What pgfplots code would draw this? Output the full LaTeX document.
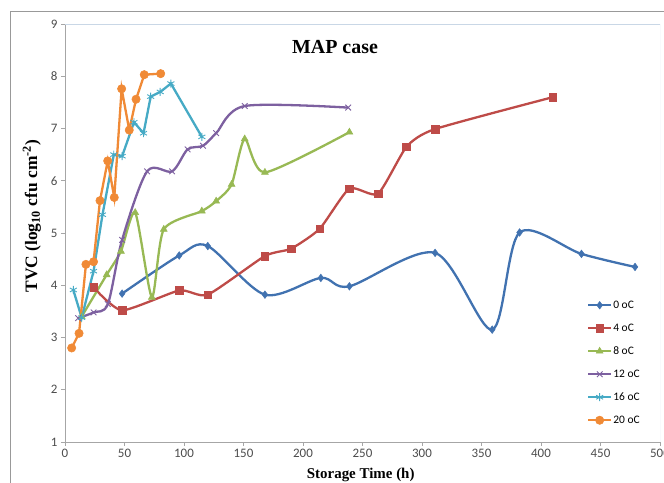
\documentclass[border=0pt]{standalone}
\usepackage{pgfplots}
\pgfplotsset{compat=1.18}
\usepackage{fontspec}
\setmainfont{Liberation Serif}
\newfontfamily\calibri{Carlito}
\definecolor{c0}{HTML}{4172B0}
\definecolor{c4}{HTML}{BE4B48}
\definecolor{c8}{HTML}{98B954}
\definecolor{c12}{HTML}{7D60A0}
\definecolor{c16}{HTML}{46AAC5}
\definecolor{c20}{HTML}{F08A36}
\definecolor{frameblue}{HTML}{C9D7E6}
\begin{document}
\begin{tikzpicture}
\path[use as bounding box] (-65bp,-41bp) rectangle (599bp,442bp);
\draw[black!40, line width=0.8bp] (-55bp,-45bp) -- (-55bp,431bp) -- (605bp,431bp);
\begin{axis}[
  name=ax, at={(0,0)}, anchor=south west,
  scale only axis, width=595bp, height=418bp,
  xmin=0, xmax=500, ymin=1, ymax=9,
  xtick={0,50,...,500}, ytick={1,2,...,9},
  axis lines=left,
  axis line style={-, black!35, line width=0.8bp},
  tick align=outside, major tick length=4bp,
  tick style={black!35, line width=0.8bp},
  tick label style={font=\calibri\fontsize{13}{13}\selectfont, text=black!70},
  /pgf/number format/assume math mode=true,
  xlabel={Storage Time (h)},
  ylabel={TVC (log\textsubscript{10} cfu cm\textsuperscript{-2})},
  xlabel style={at={(axis description cs:0.497,-0.079)}, anchor=center, font=\bfseries\fontsize{15}{15}\selectfont},
  ylabel style={at={(axis description cs:-0.0555,0.54)}, anchor=center, font=\bfseries\fontsize{17.5}{17.5}\selectfont},
  every axis plot/.append style={line width=2.3bp},
  legend image code/.code={\draw[mark repeat=2,mark phase=2,#1] plot coordinates {(0bp,0bp)(11.5bp,0bp)(23bp,0bp)};},
  legend style={at={(rel axis cs:0.877,0.342)}, anchor=north west, draw=none, fill=none,
    font=\calibri\fontsize{11.5}{11.5}\selectfont, row sep=11bp, inner sep=0pt,
    nodes={inner sep=1bp, text height=8bp, text depth=2bp}},
  legend cell align=left,
]
\addplot[c0, smooth, tension=0.5, mark=diamond*, mark size=3.8bp, mark options={solid, fill=c0, line width=0.5bp}] coordinates {
(48,3.84) (96,4.57) (120,4.75) (168,3.82) (215,4.14) (239,3.98) (311,4.62) (359,3.15) (382,5.01) (434,4.6) (479,4.35)};
\addlegendentry{0 oC}
\addplot[c4, smooth, tension=0.35, mark=square*, mark size=3.8bp, mark options={solid, fill=c4, line width=0.5bp}] coordinates {
(24,3.96) (48,3.52) (96,3.9) (120,3.82) (168,4.56) (190,4.7) (214,5.08) (239,5.85) (263,5.75) (287,6.65) (311,6.99) (410,7.6)};
\addlegendentry{4 oC}
\addplot[c8, smooth, tension=0.4, mark=triangle*, mark size=4bp, mark options={solid, fill=c8, line width=0.5bp}] coordinates {
(14,3.4) (35,4.2) (47,4.65) (59,5.39) (73,3.77) (83,5.07) (115,5.42) (127,5.61) (140,5.93) (151,6.8) (168,6.16) (239,6.93)};
\addlegendentry{8 oC}
\addplot[c12, smooth, tension=0.5, mark=x, mark size=4bp, mark options={solid, line width=0.9bp}] coordinates {
(11,3.37) (24,3.48) (36,3.64) (48,4.87) (69,6.18) (90,6.18) (103,6.6) (116,6.67) (127,6.91) (151,7.43) (238,7.4)};
\addlegendentry{12 oC}
\addplot[c16, mark=asterisk, mark size=4bp, mark options={solid, line width=0.9bp}] coordinates {
(7,3.91) (14,3.38) (24,4.27) (31.5,5.35) (41,6.5) (48,6.47) (58,7.12) (66,6.91) (72,7.61) (80,7.7) (89,7.86) (115,6.84)};
\addlegendentry{16 oC}
\addplot[c20, mark=*, mark size=4.2bp, mark options={solid, fill=c20, line width=0.5bp}] coordinates {
(5.6,2.8) (11.8,3.08) (17.6,4.4) (24,4.45) (29.4,5.62) (35.9,6.38) (41.4,5.68) (47.6,7.76) (54,6.97) (59.7,7.56) (66.6,8.03) (80.4,8.05)};
\addlegendentry{20 oC}
\draw[frameblue, line width=1bp] (rel axis cs:0,1) -- (rel axis cs:1,1) -- (rel axis cs:1,0);
\end{axis}
\node[font=\bfseries\fontsize{20}{20}\selectfont] at (270bp,395bp) {MAP case};
\end{tikzpicture}
\end{document}
